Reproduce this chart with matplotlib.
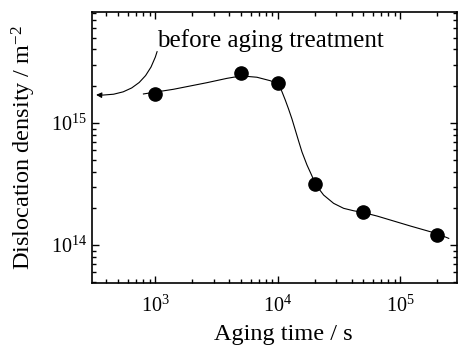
import matplotlib
matplotlib.use('Agg')
import matplotlib.pyplot as plt
from matplotlib.ticker import LogLocator, NullFormatter, LogFormatterMathtext

plt.rcParams['font.family'] = 'Liberation Serif'
plt.rcParams['mathtext.fontset'] = 'custom'
plt.rcParams['mathtext.rm'] = 'Liberation Serif'
plt.rcParams['mathtext.it'] = 'Liberation Serif:italic'

# measured points
aging_time = [1e3, 5e3, 1e4, 2e4, 5e4, 2e5]
density = [1.73e15, 2.56e15, 2.13e15, 3.16e14, 1.87e14, 1.2e14]

# fitted guide curve
curve_time = [803, 1410, 2640, 3846, 5035, 6761, 8686, 10150, 10820, 11510,
              12250, 13060, 13900, 14790, 15760, 17310, 19020, 20240, 23650,
              28550, 34450, 41560, 50100, 64530, 120800, 199600, 247900]
curve_density = [1.729e15, 1.888e15, 2.138e15, 2.32e15, 2.43e15, 2.37e15, 2.22e15,
                 2.09e15, 1.806e15, 1.544e15, 1.302e15, 1.078e15, 8.76e14,
                 7.12e14, 5.79e14, 4.53e14, 3.68e14, 3.16e14, 2.57e14, 2.197e14,
                 2.0e14, 1.91e14, 1.845e14, 1.729e14, 1.432e14, 1.24e14, 1.135e14]

# value before aging (arrow tip) and label position
before_time = 330
before_density = 1.70e15
label_time = 1038
label_density = 3.85e15

fig = plt.figure(figsize=(4.58, 3.45), dpi=100)
ax = fig.add_axes([0.201, 0.180, 0.797, 0.785])

ax.plot(curve_time, curve_density, '-', color='black', lw=0.8)
ax.plot(aging_time, density, 'o', color='black', ms=9.5)

ax.set_xscale('log')
ax.set_yscale('log')
ax.set_xlim(306, 2.9e5)
ax.set_ylim(4.9e13, 8.1e15)

ax.xaxis.set_major_locator(LogLocator(base=10, numticks=10))
ax.xaxis.set_minor_locator(LogLocator(base=10, subs=range(2, 10), numticks=20))
ax.yaxis.set_major_locator(LogLocator(base=10, numticks=10))
ax.yaxis.set_minor_locator(LogLocator(base=10, subs=range(2, 10), numticks=20))
ax.xaxis.set_major_formatter(LogFormatterMathtext())
ax.yaxis.set_major_formatter(LogFormatterMathtext())
ax.xaxis.set_minor_formatter(NullFormatter())
ax.yaxis.set_minor_formatter(NullFormatter())

ax.tick_params(which='both', direction='in', top=True, right=True, labelsize=14.5, width=1)
ax.tick_params(which='major', length=5)
ax.tick_params(which='minor', length=3)
ax.tick_params(axis='x', pad=9)
for s in ax.spines.values():
    s.set_linewidth(1.2)

ax.set_xlabel('Aging time / s', fontsize=17.5)
ax.xaxis.set_label_coords(0.523, -0.152)
ax.set_ylabel('Dislocation density / m$^{-2}$', fontsize=17.5, labelpad=9)

ax.text(label_time, label_density, 'before aging treatment', fontsize=18,
        ha='left', va='bottom')
ax.annotate('', xy=(before_time, before_density), xytext=(label_time, label_density),
            arrowprops=dict(arrowstyle='-|>', color='black', lw=0.8,
                            mutation_scale=8, shrinkA=0, shrinkB=0,
                            connectionstyle='arc3,rad=-0.4'))

fig.savefig('out.png', dpi=100)
